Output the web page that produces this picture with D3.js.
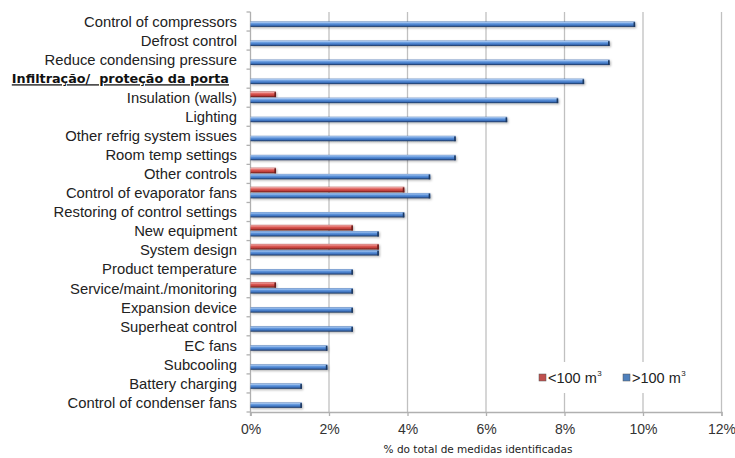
<!DOCTYPE html>
<html>
<head>
<meta charset="utf-8">
<script src="https://cdn.jsdelivr.net/npm/d3@7"></script>
<style>
  html, body { margin: 0; padding: 0; background: #fff; }
  svg { display: block; }
</style>
</head>
<body>
<svg id="chart" width="735" height="458"></svg>
<script>
// Categories, top to bottom
const categories = [
  "Control of compressors",
  "Defrost control",
  "Reduce condensing pressure",
  "Infiltração/  proteção da porta",
  "Insulation (walls)",
  "Lighting",
  "Other refrig system issues",
  "Room temp settings",
  "Other controls",
  "Control of evaporator fans",
  "Restoring of control settings",
  "New equipment",
  "System design",
  "Product temperature",
  "Service/maint./monitoring",
  "Expansion device",
  "Superheat control",
  "EC fans",
  "Subcooling",
  "Battery charging",
  "Control of condenser fans"
];

// Share of identified measures (%) for rooms larger than 100 m³
const largeRooms = [9.80, 9.15, 9.15, 8.50, 7.84, 6.54, 5.23, 5.23, 4.58, 4.58, 3.92,
                    3.27, 3.27, 2.61, 2.61, 2.61, 2.61, 1.96, 1.96, 1.31, 1.31];

// Share of identified measures (%) for rooms smaller than 100 m³
const smallRooms = [0, 0, 0, 0, 0.65, 0, 0, 0, 0.65, 3.92, 0,
                    2.61, 3.27, 0, 0.65, 0, 0, 0, 0, 0, 0];

const xTicks = [0, 2, 4, 6, 8, 10, 12];
const highlighted = "Infiltração/  proteção da porta";
const xTitle = "% do total de medidas identificadas";

const svg = d3.select("#chart");
const plotLeft = 250.5, plotRight = 721.5, plotTop = 12, plotBottom = 412;

const x = d3.scaleLinear().domain([0, 12]).range([plotLeft, plotRight]);
const y = d3.scaleBand().domain(categories).range([plotTop, plotBottom]).padding(0);
const bw = y.bandwidth();

// Bar gradients (bevelled look)
const defs = svg.append("defs");
function grad(id, stops) {
  const g = defs.append("linearGradient").attr("id", id)
    .attr("x1", 0).attr("y1", 0).attr("x2", 0).attr("y2", 1);
  stops.forEach(([o, c]) => g.append("stop").attr("offset", o).attr("stop-color", c));
}
grad("gBlue", [[0, "#4a78b8"], [0.15, "#a6c6f0"], [0.4, "#5f95dc"], [0.7, "#3f74c0"], [0.85, "#2c528c"], [1, "#1a3358"]]);
grad("gRed", [[0, "#b04440"], [0.15, "#f2a8a6"], [0.4, "#dc5a55"], [0.7, "#c2403c"], [0.85, "#8e2c29"], [1, "#5c1a18"]]);
const sh = defs.append("filter").attr("id", "shadow").attr("x", "-5%").attr("y", "-50%").attr("width", "110%").attr("height", "220%");
sh.append("feDropShadow").attr("dx", 1).attr("dy", 1.2).attr("stdDeviation", 0.8)
  .attr("flood-color", "#000").attr("flood-opacity", 0.3);

// Vertical gridlines
svg.append("g").selectAll("line").data(xTicks.filter(d => d > 0)).join("line")
  .attr("x1", d => x(d)).attr("x2", d => x(d))
  .attr("y1", plotTop).attr("y2", plotBottom)
  .attr("stroke", "#c0c0c0").attr("stroke-width", 1.3);

// Bottom axis
const xAxis = d3.axisBottom(x).tickValues(xTicks).tickFormat(d => d + "%").tickSize(4).tickPadding(8);
const gx = svg.append("g").attr("transform", `translate(0,${plotBottom})`).call(xAxis);
gx.select(".domain").attr("stroke", "#b0b0b0").attr("stroke-width", 1.3);
gx.selectAll(".tick line").attr("stroke", "#b0b0b0").attr("stroke-width", 1.3);
gx.selectAll(".tick text").attr("fill", "#333").attr("font-family", "Liberation Sans, Arial, sans-serif").attr("font-size", 14);

// Left axis line with tick marks at category boundaries
const gy = svg.append("g");
gy.append("line").attr("x1", plotLeft).attr("x2", plotLeft).attr("y1", plotTop).attr("y2", plotBottom + 4)
  .attr("stroke", "#b0b0b0").attr("stroke-width", 1.3);
gy.selectAll("line.tk").data(d3.range(categories.length + 1)).join("line").attr("class", "tk")
  .attr("x1", plotLeft - 4).attr("x2", plotLeft)
  .attr("y1", i => plotTop + i * bw).attr("y2", i => plotTop + i * bw)
  .attr("stroke", "#b0b0b0").attr("stroke-width", 1.3);

// Category labels
svg.append("g").selectAll("text").data(categories).join("text")
  .attr("x", d => d === highlighted ? 229 : 237)
  .attr("y", d => y(d) + bw / 2)
  .attr("dy", "0.36em")
  .attr("text-anchor", "end")
  .attr("fill", d => d === highlighted ? "#111" : "#222")
  .attr("font-family", d => d === highlighted ? "DejaVu Sans, Verdana, sans-serif" : "Liberation Sans, Arial, sans-serif")
  .attr("font-weight", d => d === highlighted ? "bold" : "normal")
  .attr("font-size", d => d === highlighted ? 12.8 : 14.8)
  .attr("text-decoration", d => d === highlighted ? "underline" : null)
  .style("white-space", "pre")
  .text(d => d);

// Bars: small rooms above the band centre, large rooms below
const rows = categories.map((c, i) => ({ c, small: smallRooms[i], large: largeRooms[i] }));
const barSpecs = [
  { key: "small", fill: "url(#gRed)", cap: "#6a1d1b", dy: -6.2, h: 5.6 },
  { key: "large", fill: "url(#gBlue)", cap: "#1c375f", dy: 0, h: 5.4 }
];
const bars = svg.append("g");
barSpecs.forEach(s => {
  const data = rows.filter(r => r[s.key] > 0);
  const g = bars.append("g").attr("filter", "url(#shadow)");
  g.selectAll("rect.b").data(data).join("rect").attr("class", "b")
    .attr("x", x(0)).attr("y", r => y(r.c) + bw / 2 + s.dy)
    .attr("width", r => x(r[s.key]) - x(0)).attr("height", s.h)
    .attr("fill", s.fill);
  g.selectAll("rect.cap").data(data).join("rect").attr("class", "cap")
    .attr("x", r => x(r[s.key]) - 1.6).attr("y", r => y(r.c) + bw / 2 + s.dy + 0.6)
    .attr("width", 1.6).attr("height", s.h - 0.6)
    .attr("fill", s.cap);
});

// Legend
const lg = svg.append("g");
lg.append("rect").attr("x", 533).attr("y", 362).attr("width", 160).attr("height", 31).attr("fill", "#fff");
const legendItems = [
  { label: "<100 m", base: "#c0504d", x: 539 },
  { label: ">100 m", base: "#4f81bd", x: 623 }
];
legendItems.forEach(it => {
  lg.append("rect").attr("x", it.x).attr("y", 374).attr("width", 7).attr("height", 7)
    .attr("fill", it.base).attr("stroke", "#555").attr("stroke-width", 0.5);
  const t = lg.append("text").attr("x", it.x + 9).attr("y", 383)
    .attr("font-family", "Liberation Sans, Arial, sans-serif").attr("font-size", 14.5).attr("fill", "#222");
  t.append("tspan").text(it.label);
  t.append("tspan").attr("font-size", 8).attr("dy", -7).attr("dx", 0.5).text("3");
});

// Axis title
svg.append("text").attr("x", 478).attr("y", 453)
  .attr("text-anchor", "middle")
  .attr("font-family", "DejaVu Sans, Verdana, sans-serif").attr("font-size", 10.5).attr("fill", "#222")
  .text(xTitle);
</script>
</body>
</html>
